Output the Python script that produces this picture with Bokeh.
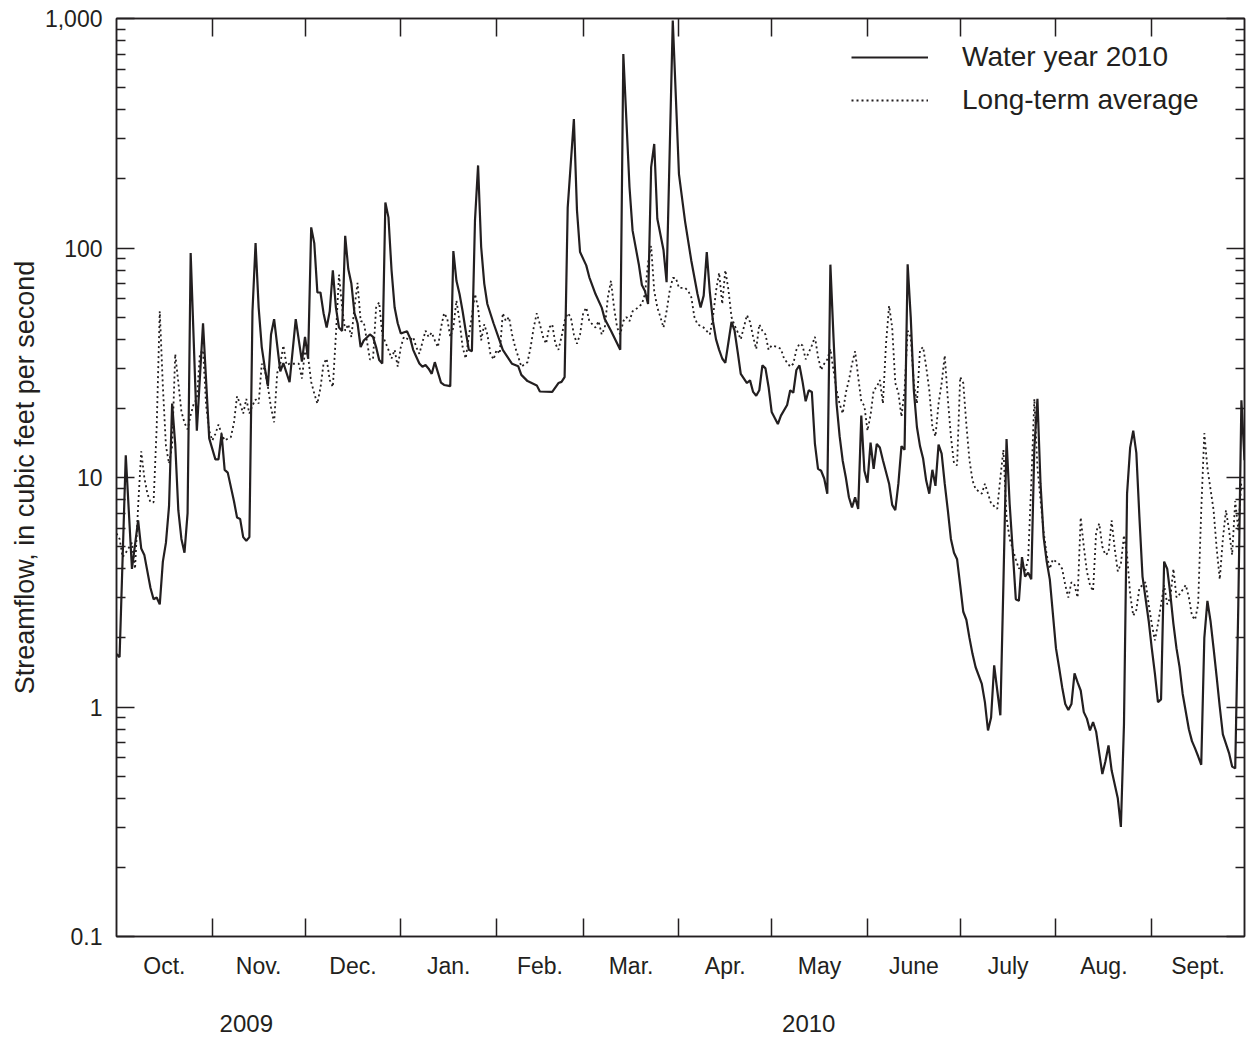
from bokeh.plotting import figure
from bokeh.models import (Range1d, FixedTicker, LinearAxis, LogAxis, Legend, LegendItem,
                          ColumnDataSource)
from bokeh.embed import file_html
from bokeh.resources import INLINE

# ---------------- data ----------------
# day offset from 1 October 2009 (water year 2010), daily mean streamflow, ft3/s
wy_day = [0, 1, 3, 5, 7, 8, 9, 11, 12, 13, 14, 15, 16, 17, 18, 19, 20, 21, 22, 23, 24, 26, 28, 30,
          32, 33, 34, 35, 36, 38, 39, 40, 41, 42, 43, 44, 45, 46, 47, 48, 49, 50, 51, 53, 54, 56,
          58, 60, 61, 62, 63, 64, 65, 66, 67, 68, 69, 70, 71, 72, 73, 74, 75, 76, 77, 78, 79, 80,
          82, 83, 84, 85, 86, 87, 88, 89, 90, 91, 92, 94, 95, 96, 97, 98, 99, 100, 101, 102, 103,
          104, 105, 106, 108, 109, 110, 111, 112, 113, 114, 115, 116, 117, 118, 119, 120, 122,
          124, 125, 128, 130, 131, 133, 136, 137, 141, 143, 144, 145, 146, 148, 149, 150, 152,
          153, 155, 157, 158, 160, 163, 164, 166, 167, 169, 170, 171, 172, 173, 174, 175, 177,
          178, 180, 182, 184, 186, 188, 189, 190, 191, 192, 193, 194, 195, 196, 197, 199, 200,
          201, 202, 204, 205, 206, 207, 208, 209, 210, 211, 212, 214, 215, 217, 218, 219, 220,
          221, 222, 223, 224, 225, 226, 227, 228, 229, 230, 231, 232, 233, 234, 235, 236, 237,
          238, 239, 240, 241, 242, 243, 244, 245, 246, 247, 248, 250, 251, 252, 253, 254, 255,
          256, 257, 258, 259, 260, 261, 262, 263, 264, 265, 266, 267, 268, 269, 270, 271, 272,
          273, 274, 275, 276, 277, 278, 280, 281, 282, 283, 284, 285, 286, 287, 288, 289, 290,
          291, 292, 293, 294, 295, 296, 297, 298, 299, 300, 301, 302, 304, 305, 306, 307, 308,
          309, 310, 311, 312, 313, 314, 315, 316, 317, 318, 319, 320, 321, 322, 324, 325, 326,
          327, 328, 329, 330, 331, 332, 334, 335, 336, 337, 338, 339, 340, 341, 342, 343, 344,
          345, 347, 348, 349, 350, 351, 352, 353, 354, 355, 356, 357, 358, 360, 361, 362, 363,
          364, 365]
wy_cfs = [1.7, 1.65, 12.5, 4.0, 6.5, 4.9, 4.6, 3.3, 2.95, 3.0, 2.8, 4.3, 5.2, 7.5, 21, 14, 7.2, 5.4,
          4.7, 7.0, 95, 16, 47, 14.8, 12, 12, 15.5, 10.8, 10.5, 7.9, 6.7, 6.6, 5.5, 5.3, 5.5, 53,
          105, 55, 37, 30, 25, 42, 49, 29, 31.5, 26, 49, 32, 41, 33, 123, 105, 64, 64, 52, 45, 53,
          80, 55, 45, 43.5, 113, 81, 70, 52, 47, 37, 39.5, 42, 41, 37, 32.5, 31.4, 158, 136, 80,
          55, 47, 42.4, 43.4, 40.5, 36, 33.6, 31.4, 30.4, 30.9, 29.8, 28.3, 31.8, 28.7, 25.9,
          25.3, 25, 97, 72, 63, 53, 43.5, 36, 35.5, 132, 229, 101, 70, 57, 47, 39.4, 36, 31.3,
          30.5, 28, 26.3, 25.2, 23.7, 23.6, 25.8, 26.1, 27.4, 150, 365, 146, 96, 84, 74.5, 63, 55,
          49, 43.6, 36, 700, 184, 119, 85, 69, 65, 57, 225, 284, 134, 98, 71, 980, 210, 130, 88,
          63, 55, 62, 96, 64, 48, 40, 36, 33, 31.6, 47.6, 43.6, 35.3, 28.3, 25.8, 26.5, 23.6,
          22.7, 24, 30.8, 29.9, 24.8, 19.3, 17.1, 18.6, 20.7, 24, 23.4, 29.4, 30.8, 26.1, 21.5,
          24, 23.6, 14, 10.9, 10.7, 9.9, 8.5, 84.6, 41, 21, 15.1, 11.8, 10, 8.2, 7.4, 8.2, 7.3,
          18.6, 10.7, 9.5, 14.2, 10.9, 14, 13.5, 11.9, 9.4, 7.6, 7.2, 9.4, 13.7, 13.2, 85, 50, 24,
          16.6, 13.7, 12.1, 9.7, 8.5, 10.8, 9.2, 13.9, 12.7, 9.4, 7.2, 5.4, 4.7, 4.4, 3.4, 2.6,
          2.4, 2.0, 1.7, 1.49, 1.26, 1.05, 0.79, 0.90, 1.52, 1.18, 0.92, 3.5, 14.7, 7.7, 4.8,
          2.95, 2.9, 4.5, 3.7, 3.85, 3.6, 13.5, 22, 9.4, 5.5, 4.3, 3.6, 1.8, 1.49, 1.22, 1.03,
          0.97, 1.03, 1.4, 1.28, 1.18, 0.95, 0.89, 0.79, 0.86, 0.78, 0.63, 0.51, 0.58, 0.68, 0.53,
          0.40, 0.30, 0.84, 8.5, 13.5, 16, 12.8, 6.7, 3.7, 2.37, 1.8, 1.4, 1.05, 1.08, 4.3, 4.0,
          3.1, 2.3, 1.8, 1.49, 1.14, 0.80, 0.71, 0.66, 0.61, 0.56, 2.0, 2.9, 2.37, 1.8, 1.35, 1.0,
          0.76, 0.63, 0.55, 0.54, 2.8, 21.7, 11.9]

lta_day = [0, 1, 2, 3, 5, 6, 7, 8, 9, 10, 11, 12, 13, 14, 15, 16, 17, 18, 19, 20, 21, 22, 23, 24,
           25, 26, 27, 28, 29, 30, 31, 32, 33, 34, 35, 37, 38, 39, 40, 41, 42, 43, 44, 45, 46, 47,
           48, 49, 50, 51, 52, 53, 54, 55, 56, 58, 59, 60, 61, 62, 63, 64, 65, 66, 67, 68, 69, 70,
           71, 72, 73, 74, 75, 76, 77, 78, 79, 80, 81, 82, 83, 84, 85, 86, 88, 89, 90, 91, 92, 93,
           95, 96, 97, 98, 100, 101, 102, 103, 104, 105, 106, 107, 108, 109, 110, 111, 112, 113,
           114, 116, 117, 118, 119, 120, 121, 122, 123, 124, 125, 126, 127, 128, 129, 130, 131,
           133, 134, 135, 136, 137, 138, 139, 140, 141, 142, 143, 144, 145, 146, 147, 148, 149,
           150, 151, 152, 153, 155, 156, 157, 158, 159, 160, 161, 162, 163, 164, 165, 166, 167,
           168, 170, 171, 172, 173, 174, 175, 176, 177, 178, 179, 180, 181, 182, 184, 185, 186,
           187, 188, 190, 192, 193, 194, 195, 196, 197, 198, 199, 200, 201, 202, 204, 205, 206,
           207, 208, 209, 210, 211, 212, 214, 215, 216, 218, 219, 220, 221, 222, 223, 225, 226,
           227, 228, 229, 230, 231, 232, 233, 234, 235, 236, 237, 238, 239, 240, 241, 242, 243,
           244, 245, 246, 247, 248, 249, 250, 251, 252, 253, 254, 255, 256, 257, 258, 259, 260,
           261, 262, 263, 264, 265, 266, 267, 268, 269, 270, 271, 272, 273, 274, 275, 276, 277,
           278, 280, 281, 282, 283, 285, 286, 287, 288, 289, 291, 292, 293, 294, 295, 296, 297,
           298, 300, 301, 302, 303, 305, 306, 307, 308, 309, 310, 311, 312, 313, 314, 315, 316,
           317, 318, 319, 320, 321, 322, 323, 324, 325, 326, 327, 328, 329, 330, 331, 333, 334,
           335, 336, 337, 338, 339, 340, 341, 342, 343, 344, 346, 347, 348, 349, 350, 351, 352,
           353, 355, 356, 357, 358, 359, 360, 361, 362, 363, 364]
lta_cfs = [5.7, 5.4, 4.5, 4.7, 5.2, 4.0, 7.5, 13, 10, 8.5, 7.8, 7.8, 16.5, 53, 25, 13.7, 11.5, 13.7,
           34.5, 26, 19.4, 17.3, 16.2, 18.7, 21, 22, 34.6, 35.9, 20.6, 16, 14.5, 15.5, 17, 15.5,
           14.5, 15, 17.3, 22.6, 21, 19, 22, 19, 20.6, 21.9, 21, 31.3, 29.4, 24.8, 20.2, 17.4,
           28.5, 31.3, 37.6, 30.9, 31.3, 31.3, 31.3, 27, 35.5, 33.6, 26.1, 23.2, 21, 24.6, 31.3,
           32.9, 26.6, 24.8, 42, 76.5, 55, 43.6, 46.5, 40.9, 55, 70.5, 48, 47.6, 39.6, 32.7, 32.7,
           55, 58, 42, 36, 33, 36, 30.4, 37, 41, 39.6, 40.9, 37, 34.6, 43.6, 41, 42.8, 39.6, 37,
           45, 52, 49.5, 41, 45, 59, 48, 37, 33, 41, 63, 55, 39.6, 46.5, 42, 34.6, 32.7, 36, 34.6,
           52, 48, 50, 42, 37, 33.6, 30.4, 31.8, 37, 45, 52, 46.5, 41, 38.3, 45, 46.5, 38.3, 36,
           41, 48, 52, 50, 42, 38.3, 42, 52, 55, 48, 45, 48, 42, 45, 61, 72, 55, 45, 42, 48, 50,
           48, 53, 54, 57, 63, 86, 102, 65, 55, 50, 45, 53, 65, 74, 74, 67, 67, 65, 61, 50, 46.5,
           45, 42, 50, 65, 78, 57, 80, 66, 50, 46, 43, 40, 51, 47.6, 41, 36.3, 46.5, 43.6, 42, 36,
           37.6, 37, 36.3, 33, 30.4, 31.3, 36, 38.3, 37.6, 32.7, 37.6, 41, 33.6, 29.4, 31.3, 32.7,
           36.3, 29.4, 24, 20.9, 19, 23.4, 26.6, 31.3, 35.5, 27.4, 21.5, 20.5, 16, 18.7, 24, 24.8,
           26.6, 21, 38.3, 56, 45, 25.8, 23.4, 18.4, 24, 43.6, 41, 25.8, 21, 36, 37, 30.4, 24,
           16.6, 15.1, 21, 25.8, 34, 22, 15.1, 11.5, 11.3, 27.4, 25.8, 17, 11.9, 9.7, 8.9, 8.5,
           9.4, 8.5, 7.7, 7.3, 10, 13.2, 6.7, 5.4, 4.4, 4.0, 4.2, 3.9, 4.4, 9.4, 22, 11, 5.8, 4.6,
           4.0, 4.4, 4.2, 4.0, 3.4, 3.0, 3.5, 3.4, 3.0, 6.7, 5.0, 3.9, 3.4, 3.2, 5.8, 6.3, 5.0,
           4.6, 4.7, 6.5, 4.9, 3.9, 4.2, 5.6, 4.6, 3.1, 2.5, 2.65, 3.3, 3.5, 2.8, 2.3, 1.95, 2.3,
           2.8, 3.4, 2.8, 3.0, 4.0, 3.0, 3.1, 3.4, 3.0, 2.5, 2.4, 2.8, 7.2, 15.6, 11, 7.2, 4.9,
           3.6, 5.4, 7.2, 5.9, 4.6, 7.9, 5.9, 9.7]

month_start = [0, 31, 61, 92, 123, 151, 182, 212, 243, 273, 304, 335, 365]
month_names = ["Oct.", "Nov.", "Dec.", "Jan.", "Feb.", "Mar.", "Apr.", "May", "June", "July",
               "Aug.", "Sept."]
year_names = ["2009", "2010"]
year_pos = [42, 224]
y_major = [0.1, 1, 10, 100, 1000]
y_major_labels = ["0.1", "1", "10", "100", "1,000"]

# ---------------- styling ----------------
INK = "#231f20"
FONT = "Liberation Sans"

month_mid = [(a + b) / 2 for a, b in zip(month_start[:-1], month_start[1:])]
y_minor = [m * 10 ** e for e in (-1, 0, 1, 2) for m in range(2, 10)]

p = figure(width=1250, height=1035, x_range=Range1d(0, 365), y_range=Range1d(0.1, 1000),
           y_axis_type="log", output_backend="svg", toolbar_location=None,
           min_border_left=116, min_border_right=6, min_border_top=18, min_border_bottom=99,
           background_fill_color="white", border_fill_color="white")
p.grid.visible = False
p.outline_line_color = INK
p.outline_line_width = 1.5

src_wy = ColumnDataSource(dict(day=wy_day, cfs=wy_cfs))
src_lta = ColumnDataSource(dict(day=lta_day, cfs=lta_cfs))
r_lta = p.line("day", "cfs", source=src_lta, line_color=INK, line_width=1.8, line_dash="2 3")
r_wy = p.line("day", "cfs", source=src_wy, line_color=INK, line_width=2.2)


def style_axis(ax):
    ax.axis_line_color = INK
    ax.axis_line_width = 1.5
    ax.major_tick_line_color = INK
    ax.minor_tick_line_color = INK
    ax.major_tick_line_width = 1.5
    ax.minor_tick_line_width = 1.5
    ax.major_label_text_color = INK
    ax.major_label_text_font = FONT


# bottom: month labels centred in months, ticks at month boundaries
xb = p.xaxis[0]
style_axis(xb)
xb.ticker = FixedTicker(ticks=month_mid, minor_ticks=month_start[1:-1])
xb.major_label_overrides = {m: n for m, n in zip(month_mid, month_names)}
xb.major_tick_line_color = None
xb.major_tick_in = 0
xb.major_tick_out = 0
xb.minor_tick_in = 18
xb.minor_tick_out = 0
xb.major_label_text_font_size = "23px"
xb.major_label_standoff = 16

# top ticks
xt = LinearAxis(ticker=FixedTicker(ticks=[], minor_ticks=month_start[1:-1]))
style_axis(xt)
xt.major_tick_in = 0
xt.major_tick_out = 0
xt.minor_tick_in = 18
xt.minor_tick_out = 0
xt.major_label_standoff = 0
p.add_layout(xt, "above")

# year labels
xy = LinearAxis(ticker=FixedTicker(ticks=year_pos, minor_ticks=[]))
xy.major_label_overrides = {k: v for k, v in zip(year_pos, year_names)}
xy.axis_line_color = None
xy.major_tick_line_color = None
xy.minor_tick_line_color = None
xy.major_tick_in = 0
xy.major_tick_out = 0
xy.major_label_text_font = FONT
xy.major_label_text_font_size = "24px"
xy.major_label_text_color = INK
xy.major_label_standoff = 33
p.add_layout(xy, "below")

# left log axis
yl = p.yaxis[0]
style_axis(yl)
yl.ticker = FixedTicker(ticks=y_major, minor_ticks=y_minor)
yl.major_label_overrides = {k: v for k, v in zip(y_major, y_major_labels)}
yl.major_tick_in = 18
yl.major_tick_out = 0
yl.minor_tick_in = 9
yl.minor_tick_out = 0
yl.major_label_text_font_size = "23px"
yl.major_label_standoff = 14
yl.axis_label = "Streamflow, in cubic feet per second"
yl.axis_label_text_font = FONT
yl.axis_label_text_font_size = "27px"
yl.axis_label_text_font_style = "normal"
yl.axis_label_text_color = INK
yl.axis_label_standoff = 2

# right log axis (ticks only)
yr = LogAxis(ticker=FixedTicker(ticks=y_major, minor_ticks=y_minor))
style_axis(yr)
yr.major_label_overrides = {k: "" for k in y_major}
yr.major_tick_in = 18
yr.major_tick_out = 0
yr.minor_tick_in = 9
yr.minor_tick_out = 0
yr.major_label_standoff = 0
p.add_layout(yr, "right")

legend = Legend(items=[LegendItem(label="Water year 2010", renderers=[r_wy]),
                       LegendItem(label="Long-term average", renderers=[r_lta])],
                location=(735, 819), padding=0, margin=0, spacing=9,
                glyph_width=77, glyph_height=34, label_height=34, label_standoff=34,
                label_text_font=FONT, label_text_font_size="28px", label_text_color=INK,
                border_line_color=None, background_fill_alpha=0)
p.add_layout(legend)

open("out.html", "w").write(file_html(p, INLINE))
